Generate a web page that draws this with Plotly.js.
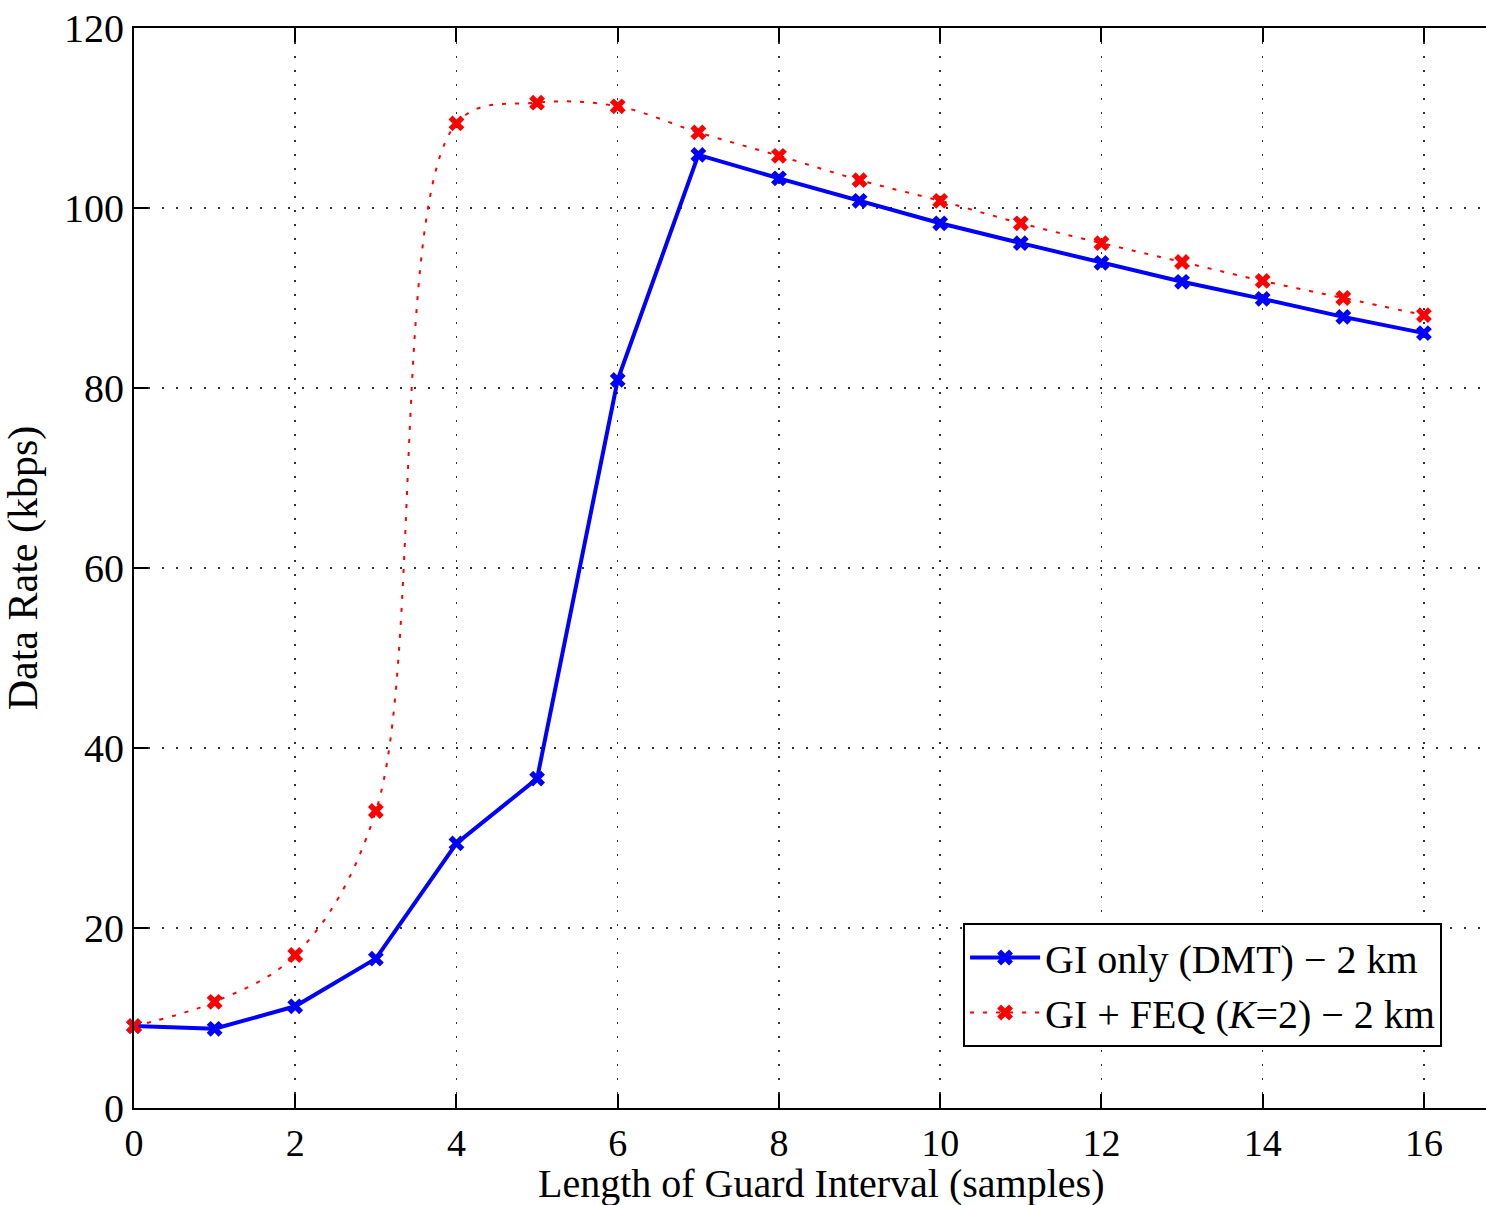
<!DOCTYPE html>
<html>
<head>
<meta charset="utf-8">
<script src="https://cdn.plot.ly/plotly-3.0.1.min.js"></script>
<style>html,body{margin:0;padding:0;overflow:hidden;background:#fff;}</style>
</head>
<body>
<div id="chart" style="width:1486px;height:1205px;"></div>
<script>
const guardLength = [0,1,2,3,4,5,6,7,8,9,10,11,12,13,14,15,16];
const giOnly = [9.1,8.8,11.3,16.6,29.4,36.6,80.9,105.9,103.3,100.8,98.3,96.1,93.9,91.8,89.9,87.9,86.1];
const giFeq = [9.1,11.8,17.0,33.0,109.4,111.7,111.3,108.4,105.8,103.1,100.8,98.3,96.1,94.0,91.9,90.0,88.1];
const xTicks = [0,2,4,6,8,10,12,14,16];
const yTicks = [0,20,40,60,80,100,120];
const xTitle = 'Length of Guard Interval (samples)';
const yTitle = 'Data Rate (kbps)';

const font = {family: '"Liberation Serif", "Times New Roman", serif', color: '#000'};

const traces = [
  {
    x: guardLength, y: giOnly, type: 'scatter', mode: 'lines+markers',
    name: 'GI only (DMT) \u2212 2 km',
    line: {color: '#0000ff', width: 4},
    marker: {symbol: 'x', size: 14, color: '#0000ff'},
    cliponaxis: false
  },
  {
    x: guardLength, y: giFeq, type: 'scatter', mode: 'lines+markers',
    name: 'GI + FEQ (<i>K</i>=2) \u2212 2 km',
    line: {color: '#ff0000', width: 2, dash: '4px,9px', shape: 'spline', smoothing: 1},
    marker: {symbol: 'x', size: 14, color: '#ff0000'},
    cliponaxis: false
  }
];

const layout = {
  width: 1486, height: 1205,
  margin: {l: 134, r: 0, t: 28, b: 97},
  paper_bgcolor: '#fff', plot_bgcolor: '#fff',
  font: Object.assign({size: 42}, font),
  showlegend: true,
  legend: {
    x: 0.9675, xanchor: 'right', y: 0.0565, yanchor: 'bottom',
    bgcolor: '#fff', bordercolor: '#000', borderwidth: 2,
    font: Object.assign({size: 40}, font),
    tracegroupgap: 0, itemwidth: 70
  },
  xaxis: {
    range: [0, 16.77], tickvals: xTicks, ticktext: xTicks.map(String),
    showline: true, linecolor: '#000', linewidth: 2, mirror: 'ticks',
    ticks: 'inside', ticklen: 14, tickwidth: 2, tickcolor: '#000',
    showgrid: true, gridcolor: '#333', griddash: '2px,12px', gridwidth: 1.5,
    zeroline: false,
    tickfont: Object.assign({size: 38}, font)
  },
  yaxis: {
    range: [0, 120], tickvals: yTicks, ticktext: yTicks.map(String),
    showline: true, linecolor: '#000', linewidth: 2, mirror: false,
    ticks: 'inside', ticklen: 14, tickwidth: 2, tickcolor: '#000',
    showgrid: true, gridcolor: '#333', griddash: '2px,12px', gridwidth: 1.5,
    zeroline: false,
    tickfont: Object.assign({size: 40}, font),
    title: {text: yTitle, font: Object.assign({size: 42}, font), standoff: 14}
  },
  annotations: [{
    text: xTitle, xref: 'paper', yref: 'paper',
    x: 0.508, xanchor: 'center', y: -0.0695, yanchor: 'middle',
    showarrow: false, borderpad: 0,
    font: Object.assign({size: 40}, font)
  }]
};

Plotly.newPlot('chart', traces, layout, {displayModeBar: false, staticPlot: true});
</script>
</body>
</html>
